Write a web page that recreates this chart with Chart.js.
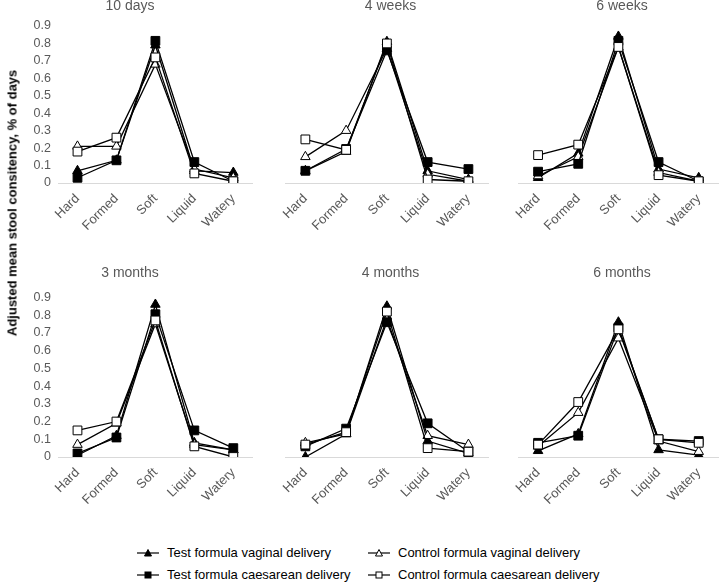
<!DOCTYPE html>
<html>
<head>
<meta charset="utf-8">
<script src="https://cdn.jsdelivr.net/npm/chart.js@4.4.1/dist/chart.umd.min.js"></script>
<style>
  body { margin: 0; background: #fff; font-family: "Liberation Sans", Arial, sans-serif; }
  #wrap { position: relative; width: 720px; height: 585px; overflow: hidden; }
  #wrap canvas { position: absolute; }
  #ylab {
    position: absolute; left: 12px; top: 203px; white-space: nowrap;
    font-weight: bold; font-size: 13px; color: #000;
    transform: translate(-50%, -50%) rotate(-90deg);
  }
  .leg { position: absolute; font-size: 13px; color: #000; white-space: nowrap; display: flex; align-items: center; }
  .leg svg { margin-right: 8px; }
</style>
</head>
<body>
<div id="wrap">
  <canvas id="p0"></canvas>
  <canvas id="p1"></canvas>
  <canvas id="p2"></canvas>
  <canvas id="p3"></canvas>
  <canvas id="p4"></canvas>
  <canvas id="p5"></canvas>
  <div id="ylab">Adjusted mean stool consitency, % of days</div>
  <div id="legend"></div>
</div>
<script>
// categories and panel titles
const categories = ['Hard', 'Formed', 'Soft', 'Liquid', 'Watery'];
const panelTitles = ['10 days', '4 weeks', '6 weeks', '3 months', '4 months', '6 months'];
const yTicks = [0, 0.1, 0.2, 0.3, 0.4, 0.5, 0.6, 0.7, 0.8, 0.9];

// one row per panel, in panelTitles order
const testVaginal = [
    [0.07, 0.13, 0.79, 0.07, 0.06],
    [0.07, 0.18, 0.81, 0.07, 0.02],
    [0.03, 0.17, 0.84, 0.08, 0.03],
    [0.01, 0.12, 0.86, 0.08, 0.04],
    [0.00, 0.13, 0.85, 0.09, 0.02],
    [0.035, 0.13, 0.76, 0.04, 0.01]
];
const controlVaginal = [
    [0.21, 0.21, 0.68, 0.08, 0.03],
    [0.15, 0.30, 0.77, 0.05, 0.01],
    [0.04, 0.15, 0.78, 0.06, 0.01],
    [0.07, 0.19, 0.75, 0.07, 0.04],
    [0.08, 0.13, 0.78, 0.12, 0.07],
    [0.06, 0.25, 0.67, 0.09, 0.03]
];
const testCaesarean = [
    [0.03, 0.13, 0.815, 0.12, 0.01],
    [0.07, 0.195, 0.76, 0.12, 0.08],
    [0.065, 0.11, 0.815, 0.12, 0.01],
    [0.02, 0.11, 0.805, 0.15, 0.05],
    [0.06, 0.16, 0.76, 0.19, 0.03],
    [0.08, 0.12, 0.73, 0.10, 0.09]
];
const controlCaesarean = [
    [0.18, 0.26, 0.72, 0.055, 0.01],
    [0.25, 0.19, 0.80, 0.02, 0.01],
    [0.16, 0.22, 0.78, 0.045, 0.01],
    [0.15, 0.20, 0.77, 0.06, 0.00],
    [0.07, 0.14, 0.82, 0.05, 0.03],
    [0.07, 0.31, 0.72, 0.10, 0.08]
];

const seriesDefs = [
    { label: 'Test formula vaginal delivery', data: testVaginal, style: 'triangle', fill: '#000' },
    { label: 'Control formula vaginal delivery', data: controlVaginal, style: 'triangle', fill: '#fff' },
    { label: 'Test formula caesarean delivery', data: testCaesarean, style: 'rect', fill: '#000' },
    { label: 'Control formula caesarean delivery', data: controlCaesarean, style: 'rect', fill: '#fff' }
];

const GRAY = '#595959';
const FONT = '"Liberation Sans", Arial, sans-serif';

// canvas boxes: [left, top, width, height]
const boxes = [
    [0, -2, 260, 267], [265, -2, 231, 267], [498, -2, 228, 267],
    [0, 265, 260, 262], [265, 265, 231, 262], [498, 265, 228, 262]
];

const buildPanel = function(i) {
    const [l, t, w, h] = boxes[i];
    const cv = document.getElementById('p' + i);
    cv.style.left = l + 'px';
    cv.style.top = t + 'px';
    cv.style.width = w + 'px';
    cv.style.height = h + 'px';
    cv.width = w;
    cv.height = h;

    const firstCol = (i % 3 === 0);
    const topRow = i < 3;

    new Chart(cv.getContext('2d'), {
        type: 'line',
        data: {
            labels: categories,
            datasets: seriesDefs.map((s, k) => ({
                label: s.label,
                data: s.data[i],
                borderColor: '#000',
                borderWidth: 1.3,
                pointStyle: s.style,
                pointRadius: s.style === 'rect' ? 6.2 : 5.5,
                pointBackgroundColor: s.fill,
                pointBorderColor: '#000',
                pointBorderWidth: 1,
                tension: 0,
                order: 3 - k // later series on top, like the original
            }))
        },
        options: {
            responsive: false,
            animation: false,
            layout: { padding: { left: firstCol ? 0 : 20, right: 0, top: 0, bottom: 0 } },
            plugins: {
                legend: { display: false },
                tooltip: { enabled: false },
                title: {
                    display: true,
                    text: panelTitles[i],
                    color: GRAY,
                    font: { family: FONT, size: 14, weight: 'normal' },
                    padding: topRow ? { top: 0, bottom: 11.2 } : { top: 0, bottom: 15.6 }
                }
            },
            scales: {
                x: {
                    type: 'category',
                    offset: true,
                    grid: { display: false, drawTicks: false },
                    border: { display: true, color: '#d9d9d9', width: 1 },
                    ticks: {
                        color: GRAY,
                        font: { family: FONT, size: 13 },
                        autoSkip: false,
                        minRotation: 45,
                        maxRotation: 45,
                        padding: 8
                    },
                    afterFit: function(scale) { scale.height = topRow ? 82 : 70; }
                },
                y: {
                    display: firstCol,
                    min: 0,
                    max: 0.9,
                    afterBuildTicks: function(scale) { scale.ticks = yTicks.map(v => ({ value: v })); },
                    grid: { display: false, drawTicks: false },
                    border: { display: false },
                    ticks: {
                        color: GRAY,
                        autoSkip: false,
                        font: { family: FONT, size: 12.5 },
                        padding: 7,
                        callback: v => String(+v.toFixed(1))
                    },
                    afterFit: function(scale) { if (firstCol) scale.width = 58; }
                }
            }
        }
    });
};

for (let i = 0; i < 6; i++) buildPanel(i);

// legend, two columns like the original
const marker = function(s) {
    const shape = s.style === 'rect'
        ? '<rect x="8" y="4" width="6" height="6" fill="' + s.fill + '" stroke="#000" stroke-width="1"/>'
        : '<polygon points="11,3.5 14.5,10 7.5,10" fill="' + s.fill + '" stroke="#000" stroke-width="1"/>';
    return '<svg width="22" height="14"><line x1="0" y1="7" x2="22" y2="7" stroke="#000" stroke-width="1.2"/>' + shape + '</svg>';
};
const legPos = [[137, 553], [368, 553], [137, 575], [368, 575]];
document.getElementById('legend').innerHTML = seriesDefs.map((s, k) =>
    '<div class="leg" style="left:' + legPos[k][0] + 'px;top:' + (legPos[k][1] - 8) + 'px">' +
    marker(s) + '<span>' + s.label + '</span></div>'
).join('');
</script>
</body>
</html>
